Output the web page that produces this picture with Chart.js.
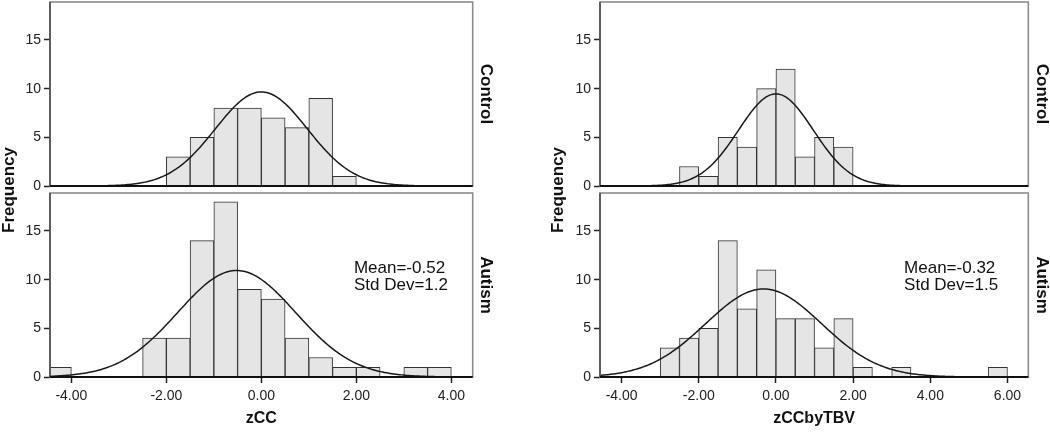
<!DOCTYPE html>
<html>
<head>
<meta charset="utf-8">
<script src="https://cdn.jsdelivr.net/npm/chart.js@4.4.1/dist/chart.umd.min.js"></script>
<style>
	body { margin: 0; background: #fff; }
	#wrap { position: relative; width: 1050px; height: 433px; }
	canvas { position: absolute; top: 0; }
</style>
</head>
<body>
<div id="wrap">
	<canvas id="zccControl" width="525" height="433" style="left:0"></canvas>
	<canvas id="zccAutism" width="525" height="433" style="left:0"></canvas>
	<canvas id="tbvControl" width="525" height="433" style="left:525px"></canvas>
	<canvas id="tbvAutism" width="525" height="433" style="left:525px"></canvas>
</div>
<script>
// histogram bins are 0.5 wide, counts start at the given lower edge
var binWidth = 0.5;

var zccControlStart = -2.0;
var zccControlCounts = [3, 5, 8, 8, 7, 6, 9, 1];
var zccAutismStart = -4.5;
var zccAutismCounts = [1, 0, 0, 0, 4, 4, 14, 18, 9, 8, 4, 2, 1, 1, 0, 1, 1];

var tbvControlStart = -2.5;
var tbvControlCounts = [2, 1, 5, 4, 10, 12, 3, 5, 4];
var tbvAutismStart = -3.0;
var tbvAutismCounts = [3, 4, 5, 14, 7, 11, 6, 6, 3, 6, 1, 0, 1, 0, 0, 0, 0, 1];

// normal curve fits (mean, sd)
var zccControlFit = [0.0, 0.97];
var zccAutismFit = [-0.52, 1.24];
var tbvControlFit = [0.0, 0.97];
var tbvAutismFit = [-0.32, 1.5];

var zccAutismStats = ['Mean=-0.52', 'Std Dev=1.2'];
var tbvAutismStats = ['Mean=-0.32', 'Std Dev=1.5'];

var zccRange = [-4.45, 4.45];
var tbvRange = [-4.56, 6.54];
var freqTicks = [0, 5, 10, 15];
var freqMax = 18.9;

var groupLabels = ['Control', 'Autism'];
var axisTitles = ['zCC', 'zCCbyTBV'];

var FONT = '"Liberation Sans", Arial, Helvetica, sans-serif';

var helpers = {
	bars: function (start, counts) {
		var out = [];
		counts.forEach(function (c, i) {
			if (c > 0) {
				out.push({ x: start + binWidth * i + binWidth / 2, y: c });
			}
		});
		return out;
	},
	curve: function (fit, counts, range) {
		var n = counts.reduce(function (a, b) { return a + b; }, 0);
		var out = [];
		var mean = fit[0], sd = fit[1];
		for (var x = range[0]; x <= range[1] + 0.001; x += 0.04) {
			var z = (x - mean) / sd;
			out.push({ x: x, y: n * binWidth * Math.exp(-0.5 * z * z) / (sd * Math.sqrt(2 * Math.PI)) });
		}
		return out;
	}
};

var panelDecor = {
	id: 'panelDecor',
	afterDraw: function (chart, args, opts) {
		var ctx = chart.ctx;
		var a = chart.chartArea;
		ctx.save();

		// frame
		ctx.strokeStyle = '#8c8c8c';
		ctx.lineWidth = 1.6;
		ctx.strokeRect(a.left, a.top, a.right - a.left, a.bottom - a.top);
		ctx.strokeStyle = '#3a3a3a';
		ctx.lineWidth = 1.3;
		ctx.beginPath();
		ctx.moveTo(a.left, a.top);
		ctx.lineTo(a.left, a.bottom);
		ctx.stroke();
		ctx.strokeStyle = '#111';
		ctx.lineWidth = 2;
		ctx.beginPath();
		ctx.moveTo(a.left, a.bottom);
		ctx.lineTo(a.right, a.bottom);
		ctx.stroke();

		ctx.fillStyle = '#111';
		ctx.textAlign = 'center';
		ctx.textBaseline = 'middle';

		// group label on the right, reading downwards
		ctx.font = 'bold 17px ' + FONT;
		ctx.save();
		ctx.translate(opts.labelX, (a.top + a.bottom) / 2);
		ctx.rotate(Math.PI / 2);
		ctx.fillText(opts.label, 0, 0);
		ctx.restore();

		if (opts.freqX) {
			ctx.save();
			ctx.translate(opts.freqX, 190);
			ctx.rotate(-Math.PI / 2);
			ctx.fillText('Frequency', 0, 0);
			ctx.restore();
		}

		if (opts.stats) {
			ctx.font = '17px ' + FONT;
			ctx.textAlign = 'left';
			var sx = a.left + (a.right - a.left) * opts.statsX;
			var sy = a.top + (a.bottom - a.top) * 0.41;
			ctx.fillText(opts.stats[0], sx, sy);
			ctx.fillText(opts.stats[1], sx, sy + 17);
		}
		ctx.restore();
	}
};

function makePanel(id, cfg) {
	var isBottom = cfg.bottom;
	return new Chart(document.getElementById(id), {
		data: {
			datasets: [
				{
					type: 'line',
					data: helpers.curve(cfg.fit, cfg.counts, cfg.range),
					borderColor: '#1a1a1a',
					borderWidth: 1.5,
					pointRadius: 0,
					fill: false,
					order: 0
				},
				{
					type: 'bar',
					data: helpers.bars(cfg.start, cfg.counts),
					backgroundColor: '#e5e5e5',
					borderColor: '#333',
					borderWidth: 1,
					barPercentage: 1,
					categoryPercentage: 1,
					order: 1
				}
			]
		},
		plugins: [panelDecor],
		options: {
			responsive: false,
			animation: false,
			layout: {
				padding: {
					left: 0,
					right: cfg.padRight,
					top: isBottom ? 193 : 2,
					bottom: isBottom ? 0 : 247
				}
			},
			plugins: {
				legend: { display: false },
				tooltip: { enabled: false },
				panelDecor: {
					label: cfg.label,
					labelX: cfg.labelX,
					freqX: isBottom ? null : cfg.freqX,
					stats: cfg.stats,
					statsX: cfg.statsX
				}
			},
			scales: {
				x: {
					type: 'linear',
					display: isBottom,
					offset: false,
					min: cfg.range[0],
					max: cfg.range[1],
					ticks: {
						stepSize: 2,
						includeBounds: false,
						autoSkip: false,
						maxRotation: 0,
						padding: 5,
						color: '#222',
						font: { family: FONT, size: 14 },
						callback: function (v) { return v.toFixed(2); }
					},
					grid: { offset: false, drawOnChartArea: false, tickLength: 6, tickColor: '#222', tickWidth: 1.5 },
					border: { display: false },
					title: {
						display: true,
						text: cfg.title,
						color: '#111',
						font: { family: FONT, size: 16, weight: 'bold' },
						padding: { top: 0, bottom: 5 }
					},
					afterFit: function (s) {
						s.height = isBottom ? 56 : 0;
						s.paddingLeft = 0;
						s.paddingRight = 0;
					}
				},
				y: {
					min: 0,
					max: freqMax,
					afterBuildTicks: function (s) {
						s.ticks = freqTicks.map(function (v) { return { value: v }; });
					},
					ticks: {
						padding: 3,
						color: '#222',
						font: { family: FONT, size: 14 }
					},
					grid: { drawOnChartArea: false, tickLength: 6, tickColor: '#222', tickWidth: 1.5 },
					border: { display: false },
					afterFit: function (s) {
						s.width = cfg.axisWidth;
						s.paddingTop = 0;
						s.paddingBottom = 0;
					}
				}
			}
		}
	});
}

makePanel('zccControl', {
	start: zccControlStart, counts: zccControlCounts, fit: zccControlFit, range: zccRange,
	title: axisTitles[0], label: groupLabels[0], bottom: false,
	padRight: 52.3, axisWidth: 50, labelX: 486, freqX: 9
});
makePanel('zccAutism', {
	start: zccAutismStart, counts: zccAutismCounts, fit: zccAutismFit, range: zccRange,
	title: axisTitles[0], label: groupLabels[1], bottom: true,
	padRight: 52.3, axisWidth: 50, labelX: 486, stats: zccAutismStats, statsX: 0.719
});
makePanel('tbvControl', {
	start: tbvControlStart, counts: tbvControlCounts, fit: tbvControlFit, range: tbvRange,
	title: axisTitles[1], label: groupLabels[0], bottom: false,
	padRight: 21.7, axisWidth: 75, labelX: 517, freqX: 33
});
makePanel('tbvAutism', {
	start: tbvAutismStart, counts: tbvAutismCounts, fit: tbvAutismFit, range: tbvRange,
	title: axisTitles[1], label: groupLabels[1], bottom: true,
	padRight: 21.7, axisWidth: 75, labelX: 517, stats: tbvAutismStats, statsX: 0.71
});
</script>
</body>
</html>
